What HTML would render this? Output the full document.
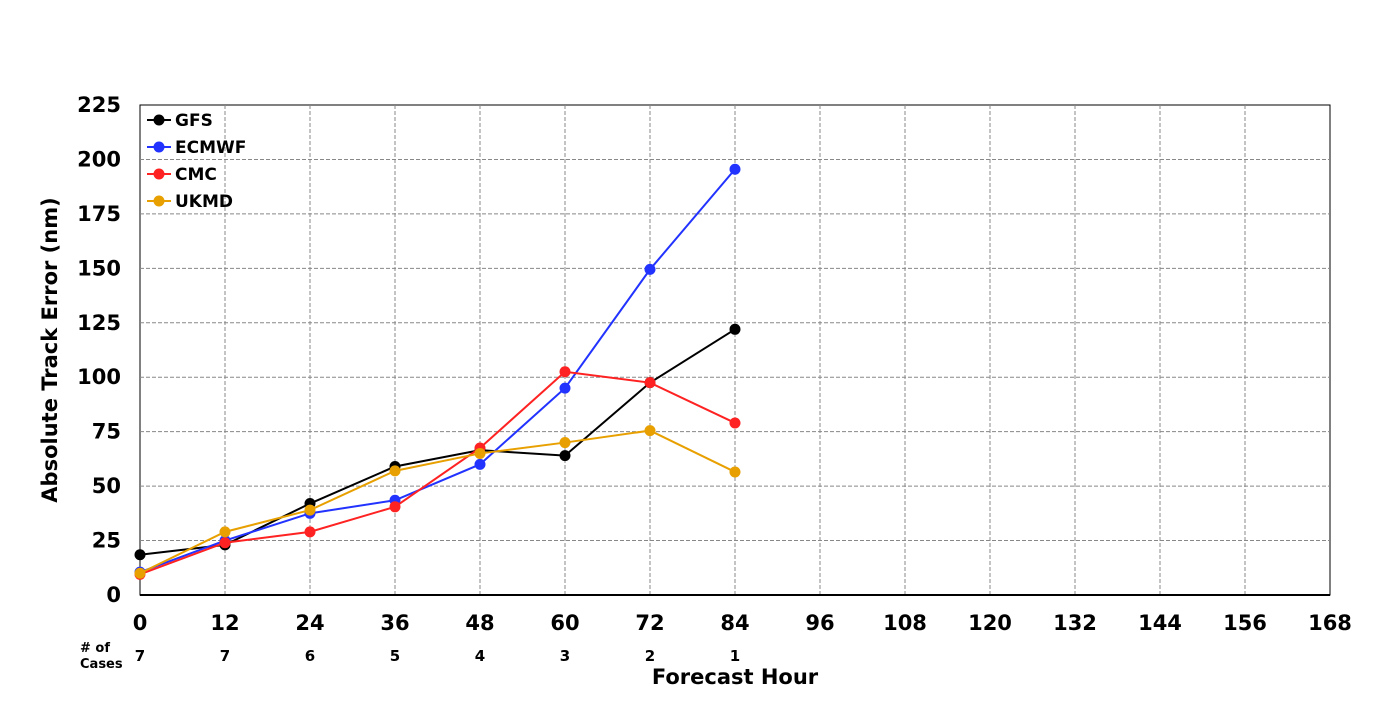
<!DOCTYPE html>
<html><head><meta charset="utf-8"><style>
body{margin:0;background:#fff;width:1400px;height:700px;overflow:hidden;font-family:"Liberation Sans","DejaVu Sans",sans-serif}
</style></head><body>
<svg id="chart" width="1400" height="700" xmlns="http://www.w3.org/2000/svg" font-family="DejaVu Sans, Liberation Sans, sans-serif"></svg>
<script>
const hours=[0,12,24,36,48,60,72,84];
const gfs=[18.5,23,42,59,66.5,64,97.5,122];
const ecmwf=[10.5,25,37.5,43.5,60,95,149.5,195.5];
const cmc=[9.5,24,29,40.5,67.5,102.5,97.5,79];
const ukmd=[10,29,39,57,65,70,75.5,56.5];
const cases=[7,7,6,5,4,3,2,1];
const xTicks=[0,12,24,36,48,60,72,84,96,108,120,132,144,156,168];
const yTicks=[0,25,50,75,100,125,150,175,200,225];
const L=140,R=1330,T=105,B=595;
const X=v=>L+(v/168)*(R-L), Y=v=>B-(v/225)*(B-T);
const svg=document.getElementById('chart');const NS='http://www.w3.org/2000/svg';
function el(t,a,txt){const e=document.createElementNS(NS,t);for(const k in a)e.setAttribute(k,a[k]);if(txt!==undefined)e.textContent=txt;svg.appendChild(e);return e;}
el('rect',{x:L,y:T,width:R-L,height:B-T,fill:'#fff',stroke:'#000','stroke-width':1});
xTicks.forEach(h=>{if(h>0&&h<168){const g=el('line',{x1:X(h),x2:X(h),y1:T,y2:B,stroke:'#888','stroke-dasharray':'4,2'});

}
const t=el('text',{x:X(h),y:630,'text-anchor':'middle','font-size':21,'font-weight':'bold'},h);

});
yTicks.forEach(v=>{if(v>0&&v<225){const g=el('line',{x1:L,x2:R,y1:Y(v),y2:Y(v),stroke:'#888','stroke-dasharray':'4,2'});

}
const t=el('text',{x:121,y:Y(v)+7,'text-anchor':'end','font-size':21,'font-weight':'bold'},v);

});
el('line',{x1:L,x2:R,y1:B,y2:B,stroke:'#000','stroke-width':2});
hours.forEach((h,i)=>{const t=el('text',{x:X(h),y:661,'text-anchor':'middle','font-size':15,'font-weight':'bold'},cases[i]);

});
let c=el('text',{x:80,y:652,'font-size':13,'font-weight':'bold'},'# of');
c=el('text',{x:80,y:668,'font-size':13,'font-weight':'bold'},'Cases');
let xt=el('text',{x:735,y:684,'text-anchor':'middle','font-size':21,'font-weight':'bold'},'Forecast Hour');


let yt=el('text',{x:0,y:0,transform:'translate(57,350) rotate(-90)','text-anchor':'middle','font-size':21,'font-weight':'bold'},'Absolute Track Error (nm)');


const series=[['GFS',gfs,'#000'],['ECMWF',ecmwf,'#2233ff'],['CMC',cmc,'#ff2222'],['UKMD',ukmd,'#e8a000']];
series.forEach(([name,vals,col],si)=>{
const p=el('polyline',{points:vals.map((v,i)=>X(hours[i])+','+Y(v)).join(' '),fill:'none',stroke:col,'stroke-width':2});


vals.forEach((v,i)=>{const m=el('circle',{cx:X(hours[i]),cy:Y(v),r:5.5,fill:col});

});
const ly=120+si*27;
const ll=el('line',{x1:147,x2:171,y1:ly,y2:ly,stroke:col,'stroke-width':2});


const lc=el('circle',{cx:159,cy:ly,r:5.5,fill:col});


const lt=el('text',{x:175,y:ly+6,'font-size':17,'font-weight':'bold'},name);


});
</script>
</body></html>
